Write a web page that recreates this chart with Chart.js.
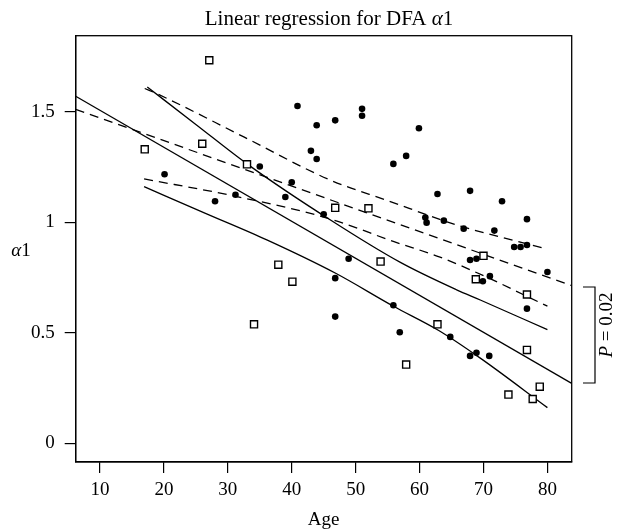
<!DOCTYPE html>
<html><head><meta charset="utf-8">
<script src="https://cdn.jsdelivr.net/npm/chart.js@4.4.1/dist/chart.umd.min.js"></script>
<style>html,body{margin:0;padding:0;background:#fff}#wrap{width:619px;height:531px;position:relative}</style>
</head><body><div id="wrap"><canvas id="c"></canvas></div>
<script>
// Squares (open markers)
const squareAge   = [17.0, 26.0, 27.1, 33.0, 34.1, 37.9, 40.1, 46.8, 52.0, 53.9, 57.9, 62.8, 68.8, 70.0, 73.9, 76.8, 76.8, 77.7, 78.8];
const squareAlpha = [1.330, 1.355, 1.733, 1.262, 0.538, 0.808, 0.731, 1.065, 1.063, 0.822, 0.356, 0.538, 0.742, 0.848, 0.220, 0.673, 0.422, 0.200, 0.256];
// Dots (filled markers)
const dotAge   = [20.1, 28.0, 31.2, 35.0, 39.0, 40.0, 40.9, 43.0, 43.9, 43.9, 45.0, 46.8, 46.8, 46.8, 48.9, 51.0, 51.0, 55.9, 55.9, 56.9, 57.9, 59.9, 60.9, 61.1, 62.8, 63.8, 64.8, 66.9, 67.9, 67.9, 67.9, 68.9, 68.9, 69.9, 71.0, 70.9, 71.7, 72.9, 74.8, 75.8, 76.8, 76.8, 76.8, 80.0];
const dotAlpha = [1.217, 1.095, 1.124, 1.252, 1.114, 1.181, 1.526, 1.323, 1.439, 1.286, 1.036, 1.461, 0.747, 0.573, 0.835, 1.513, 1.482, 1.264, 0.624, 0.502, 1.300, 1.425, 1.021, 0.998, 1.128, 1.007, 0.481, 0.971, 1.142, 0.829, 0.395, 0.835, 0.409, 0.733, 0.756, 0.395, 0.962, 1.095, 0.888, 0.888, 1.014, 0.897, 0.609, 0.775];
// Regression lines (span whole axis)
const fitAge       = [6.2, 83.8];
const fitSolid     = [1.570, 0.271];
const fitDashed    = [1.511, 0.713];
// Solid confidence band
const solidUpAge   = [17.4, 25.1, 33.0, 46.0, 57.0, 65.8, 69.5, 80.0];
const solidUp      = [1.612, 1.440, 1.264, 1.011, 0.818, 0.694, 0.648, 0.514];
const solidLoAge   = [16.9, 26.5, 36.1, 46.8, 55.9, 63.0, 69.5, 80.0];
const solidLo      = [1.161, 1.040, 0.920, 0.770, 0.620, 0.510, 0.385, 0.161];
// Dashed confidence band
const dashUpAge    = [17.0, 19.1, 32.5, 46.0, 55.0, 65.8, 80.0];
const dashUp       = [1.605, 1.579, 1.386, 1.191, 1.098, 0.988, 0.878];
const dashLoAge    = [16.9, 31.1, 46.0, 56.0, 63.2, 70.0, 80.0];
const dashLo       = [1.196, 1.118, 1.015, 0.912, 0.842, 0.758, 0.620];
// Axes
const xTicks = [10, 20, 30, 40, 50, 60, 70, 80];
const yTicks = [0, 0.5, 1, 1.5];
const yTickLabels = ['0', '0.5', '1', '1.5'];

const pts = (xs, ys) => xs.map((x, i) => ({x: x, y: ys[i]}));
const FONT = "'Liberation Serif', 'DejaVu Serif', serif";
const lineDs = (xs, ys, dashed, smooth) => ({
  data: pts(xs, ys), showLine: true, pointRadius: 0, borderColor: '#000',
  borderWidth: 1.3, borderDash: dashed ? [9, 6] : [], fill: false,
  cubicInterpolationMode: smooth ? 'monotone' : 'default', tension: 0
});

const deco = {
  id: 'deco',
  afterDraw(chart) {
    const ctx = chart.ctx, a = chart.chartArea;
    ctx.save();
    ctx.strokeStyle = '#000'; ctx.lineWidth = 1.3;
    ctx.strokeRect(a.left, a.top, a.right - a.left, a.bottom - a.top);
    ctx.fillStyle = '#000';
    // title
    const parts = [['Linear regression for DFA ', '21px ' + FONT], ['\u03B1', 'italic 21px ' + FONT], ['1', '21px ' + FONT]];
    let w = 0;
    parts.forEach(p => { ctx.font = p[1]; w += ctx.measureText(p[0]).width; });
    let x = 329 - w / 2;
    ctx.textBaseline = 'alphabetic'; ctx.textAlign = 'left';
    parts.forEach(p => { ctx.font = p[1]; ctx.fillText(p[0], x, 25); x += ctx.measureText(p[0]).width; });
    // x title
    ctx.font = '19px ' + FONT; ctx.textAlign = 'center';
    ctx.fillText('Age', (a.left + a.right) / 2, 525);
    // y title
    ctx.textAlign = 'left';
    ctx.font = 'italic 19px ' + FONT; const wa = ctx.measureText('\u03B1').width;
    ctx.font = '19px ' + FONT; const w1 = ctx.measureText('1').width;
    let yx = 21 - (wa + w1) / 2;
    ctx.font = 'italic 19px ' + FONT; ctx.fillText('\u03B1', yx, 256);
    ctx.font = '19px ' + FONT; ctx.fillText('1', yx + wa, 256);
    // bracket
    ctx.lineWidth = 1.2;
    ctx.beginPath();
    ctx.moveTo(583, 287); ctx.lineTo(595, 287); ctx.lineTo(595, 383); ctx.lineTo(583, 383);
    ctx.stroke();
    // P = 0.02
    ctx.translate(612, 325); ctx.rotate(-Math.PI / 2);
    const pp = [['P', 'italic 19px ' + FONT], [' = 0.02', '19px ' + FONT]];
    let pw = 0; pp.forEach(p => { ctx.font = p[1]; pw += ctx.measureText(p[0]).width; });
    let px = -pw / 2;
    pp.forEach(p => { ctx.font = p[1]; ctx.fillText(p[0], px, 0); px += ctx.measureText(p[0]).width; });
    ctx.restore();
  }
};

new Chart(document.getElementById('c'), {
  type: 'scatter',
  data: { datasets: [
    { data: pts(squareAge, squareAlpha), pointStyle: 'rect', pointRadius: 5, borderColor: '#000', backgroundColor: '#fff', borderWidth: 1.4 },
    { data: pts(dotAge, dotAlpha), pointStyle: 'circle', pointRadius: 3.3, borderColor: '#000', backgroundColor: '#000', borderWidth: 0 },
    lineDs(fitAge, fitSolid, false, false),
    lineDs(fitAge, fitDashed, true, false),
    lineDs(solidUpAge, solidUp, false, true),
    lineDs(solidLoAge, solidLo, false, true),
    lineDs(dashUpAge, dashUp, true, true),
    lineDs(dashLoAge, dashLo, true, true)
  ]},
  options: {
    responsive: true, maintainAspectRatio: false, animation: false,
    layout: { padding: { left: 0, right: 47.3, top: 35.7, bottom: 0 } },
    plugins: { legend: { display: false }, tooltip: { enabled: false }, title: { display: false } },
    scales: {
      x: {
        type: 'linear', min: 6.2, max: 83.8,
        afterBuildTicks: s => { s.ticks = xTicks.map(v => ({value: v})); },
        afterFit: s => { s.height = 69; },
        grid: { drawOnChartArea: false, color: '#000', tickLength: 11, lineWidth: 1.2 },
        border: { color: '#000', width: 1.3 },
        ticks: { color: '#000', font: { family: FONT, size: 19 }, padding: 6, maxRotation: 0, callback: v => String(v) }
      },
      y: {
        type: 'linear', min: -0.085, max: 1.844,
        afterBuildTicks: s => { s.ticks = yTicks.map(v => ({value: v})); },
        afterFit: s => { s.width = 75.7; },
        grid: { drawOnChartArea: false, color: '#000', tickLength: 11, lineWidth: 1.2 },
        border: { color: '#000', width: 1.3 },
        ticks: { color: '#000', font: { family: FONT, size: 19 }, padding: 10, callback: v => yTickLabels[yTicks.indexOf(v)] }
      }
    }
  },
  plugins: [deco]
});
</script></body></html>
